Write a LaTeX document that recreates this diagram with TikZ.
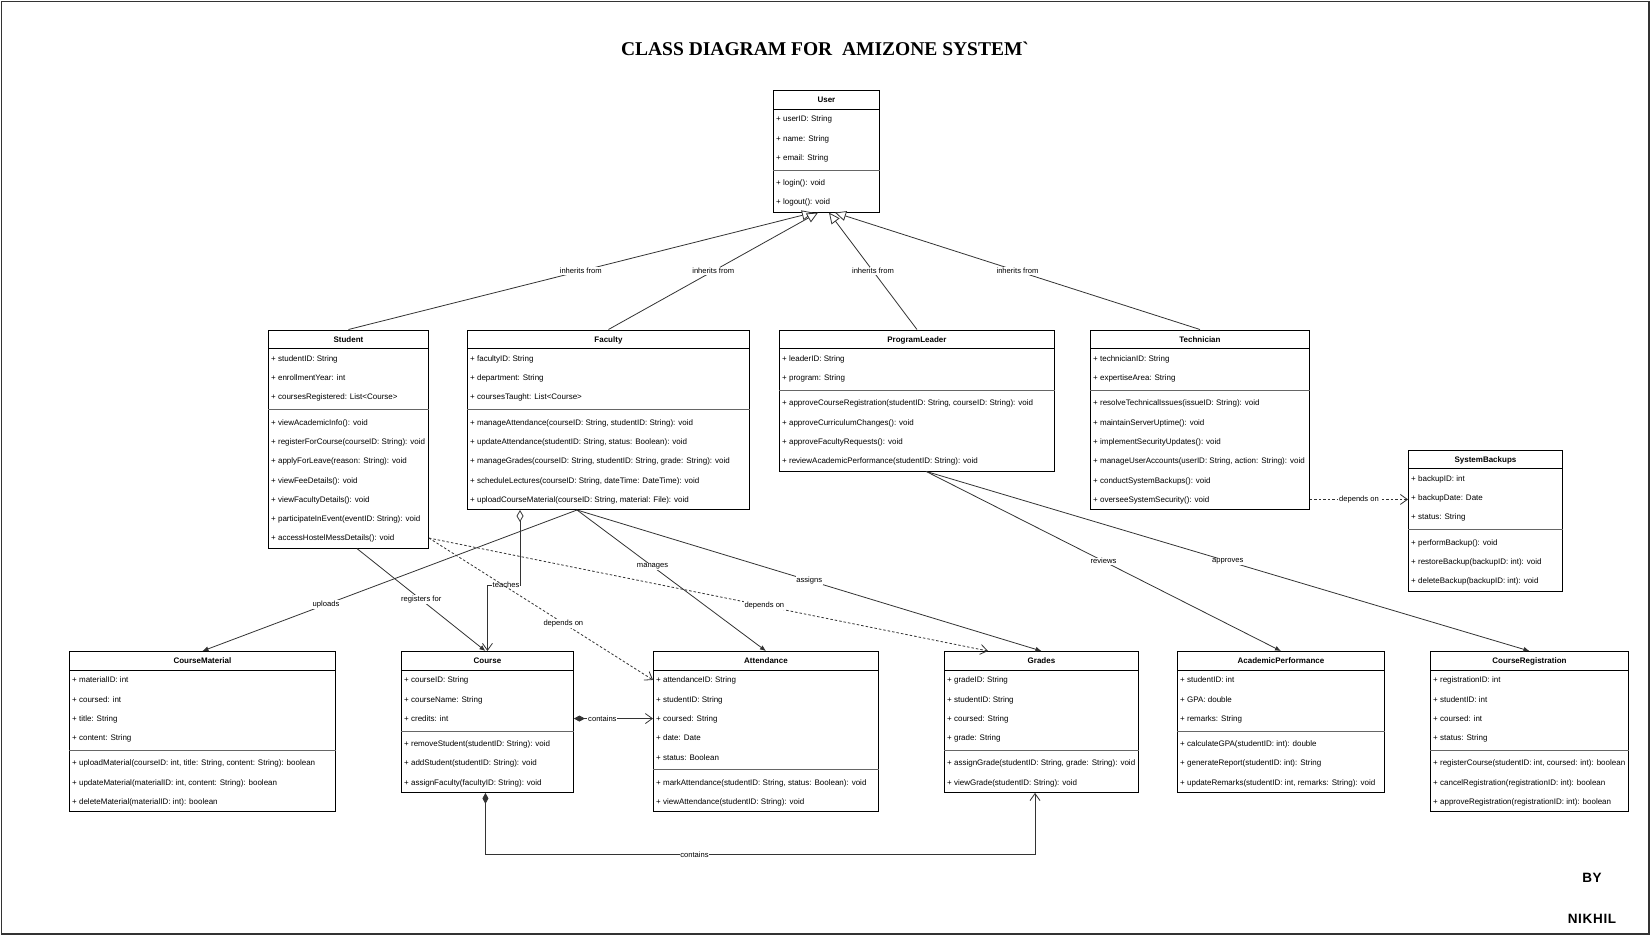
\documentclass[tikz,border=0pt]{standalone}
\usepackage{fontspec}
\setmainfont{Liberation Sans}
\newfontfamily\titlefont{Liberation Serif}
\newfontfamily\byfont[LetterSpace=5]{Liberation Sans}
\usetikzlibrary{arrows.meta,calc}

\tikzset{
  clsbox/.style={draw=black, line width=0.9pt, fill=white, inner sep=0pt, anchor=north west},
  clstitle/.style={font=\bfseries\fontsize{8}{9.6}\selectfont, anchor=base, inner sep=0pt},
  clsrow/.style={font=\fontsize{8}{9.6}\selectfont, anchor=base west, inner sep=0pt},
  clsline/.style={line width=0.8pt, black},
  clssep/.style={line width=0.9pt, black!60},
  conn/.style={draw=black!80, line width=0.8pt},
  lab/.style={font=\fontsize{7.6}{9}\selectfont, fill=white, inner sep=0.8pt},
  gen/.style={conn, -{Triangle[length=11pt, width=10pt, fill=white]}},
  assoc/.style={conn, -{Latex[length=6pt, width=5pt]}},
  dep/.style={conn, dash pattern=on 2.5pt off 2pt, -{Straight Barb[length=7pt, width=10pt]}},
  agg/.style={conn, {Diamond[length=12pt, width=7pt, fill=white]}-{Straight Barb[length=7pt, width=10pt]}},
  comp/.style={conn, {Diamond[length=11pt, width=6pt]}-{Straight Barb[length=7pt, width=10pt]}},
  signature/.style={font=\byfont\bfseries\fontsize{13.5}{15}\selectfont, anchor=base, inner sep=0pt}
}

% name, x, y(top), width, #attrs, #methods, title, attrs, methods
\newcommand{\umlclass}[9]{%
  \pgfmathsetmacro\clsH{19.3*(1+#5+#6)+5.9}%
  \node[clsbox, minimum width=#4pt, minimum height=\clsH pt] (#1) at (#2,#3) {};
  \node[clstitle] at ($(#1.north)+(0,12.6)$) {#7};
  \draw[clsline] ($(#1.north west)+(0,19.3)$) -- ($(#1.north east)+(0,19.3)$);
  \foreach \clsitem [count=\i] in {#8} {\node[clsrow] at ($(#1.north west)+(3,{19.3*\i+12.55})$) {\clsitem};}
  \pgfmathsetmacro\clsS{19.3*(1+#5)+2.95}%
  \draw[clssep] ($(#1.north west)+(0,\clsS)$) -- ($(#1.north east)+(0,\clsS)$);
  \foreach \clsitem [count=\i] in {#9} {\node[clsrow] at ($(#1.north west)+(3,{19.3*(#5+\i)+18.45})$) {\clsitem};}
}

\begin{document}
\begin{tikzpicture}[x=1pt,y=-1pt]
\useasboundingbox (0,0) rectangle (1651,936);
\fill[white] (0,0) rectangle (1651,936);
\draw[line width=1.3pt, black!80] (1.5,1.5) rectangle (1649,934);

\node[font=\titlefont\bfseries\fontsize{19.5}{22}\selectfont, anchor=base, inner sep=0pt] (title) at (825,56) {CLASS DIAGRAM FOR\ \ AMIZONE SYSTEM\textasciigrave};

\node[signature] (by) at (1592,882) {BY};
\node[signature] (nikhil) at (1592,923) {NIKHIL};

\umlclass{user}{773}{90}{106}{3}{2}{User}
  {+ userID: String, + name: String, + email: String}
  {+ login(): void, + logout(): void}

\umlclass{student}{268}{329.5}{160}{3}{7}{Student}
  {+ studentID: String, + enrollmentYear: int, + coursesRegistered: List<Course>}
  {+ viewAcademicInfo(): void, + registerForCourse(courseID: String): void, + applyForLeave(reason: String): void, + viewFeeDetails(): void, + viewFacultyDetails(): void, + participateInEvent(eventID: String): void, + accessHostelMessDetails(): void}

\umlclass{faculty}{467}{329.5}{282}{3}{5}{Faculty}
  {+ facultyID: String, + department: String, + coursesTaught: List<Course>}
  {{+ manageAttendance(courseID: String, studentID: String): void}, {+ updateAttendance(studentID: String, status: Boolean): void}, {+ manageGrades(courseID: String, studentID: String, grade: String): void}, {+ scheduleLectures(courseID: String, dateTime: DateTime): void}, {+ uploadCourseMaterial(courseID: String, material: File): void}}

\umlclass{programleader}{779}{329.5}{275}{2}{4}{ProgramLeader}
  {+ leaderID: String, + program: String}
  {{+ approveCourseRegistration(studentID: String, courseID: String): void}, + approveCurriculumChanges(): void, + approveFacultyRequests(): void, + reviewAcademicPerformance(studentID: String): void}

\umlclass{technician}{1090}{329.5}{219}{2}{6}{Technician}
  {+ technicianID: String, + expertiseArea: String}
  {+ resolveTechnicalIssues(issueID: String): void, + maintainServerUptime(): void, + implementSecurityUpdates(): void, {+ manageUserAccounts(userID: String, action: String): void}, + conductSystemBackups(): void, + overseeSystemSecurity(): void}

\umlclass{systembackups}{1408}{449.5}{154}{3}{3}{SystemBackups}
  {+ backupID: int, + backupDate: Date, + status: String}
  {+ performBackup(): void, + restoreBackup(backupID: int): void, + deleteBackup(backupID: int): void}

\umlclass{coursematerial}{69}{651}{266}{4}{3}{CourseMaterial}
  {+ materialID: int, + coursed: int, + title: String, + content: String}
  {{+ uploadMaterial(courseID: int, title: String, content: String): boolean}, {+ updateMaterial(materialID: int, content: String): boolean}, + deleteMaterial(materialID: int): boolean}

\umlclass{course}{401}{651}{172}{3}{3}{Course}
  {+ courseID: String, + courseName: String, + credits: int}
  {+ removeStudent(studentID: String): void, + addStudent(studentID: String): void, + assignFaculty(facultyID: String): void}

\umlclass{attendance}{653}{651}{225}{5}{2}{Attendance}
  {+ attendanceID: String, + studentID: String, + coursed: String, + date: Date, + status: Boolean}
  {{+ markAttendance(studentID: String, status: Boolean): void}, + viewAttendance(studentID: String): void}

\umlclass{grades}{944}{651}{194}{4}{2}{Grades}
  {+ gradeID: String, + studentID: String, + coursed: String, + grade: String}
  {{+ assignGrade(studentID: String, grade: String): void}, + viewGrade(studentID: String): void}

\umlclass{academicperformance}{1177}{651}{207}{3}{3}{AcademicPerformance}
  {+ studentID: int, + GPA: double, + remarks: String}
  {+ calculateGPA(studentID: int): double, + generateReport(studentID: int): String, {+ updateRemarks(studentID: int, remarks: String): void}}

\umlclass{courseregistration}{1430}{651}{198}{4}{3}{CourseRegistration}
  {+ registrationID: int, + studentID: int, + coursed: int, + status: String}
  {{+ registerCourse(studentID: int, coursed: int): boolean}, + cancelRegistration(registrationID: int): boolean, + approveRegistration(registrationID: int): boolean}

% generalizations
\draw[gen] (student.north) -- ($(user.south west)+(40,0)$) node[lab, pos=0.5] {inherits from};
\draw[gen] (faculty.north) -- ($(user.south west)+(45,0)$) node[lab, pos=0.5] {inherits from};
\draw[gen] (programleader.north) -- ($(user.south west)+(56,0)$) node[lab, pos=0.5] {inherits from};
\draw[gen] (technician.north) -- ($(user.south west)+(62,0)$) node[lab, pos=0.5] {inherits from};

% faculty associations
\coordinate (fbot) at ($(faculty.south west)+(110,0)$);
\draw[assoc] (fbot) -- (coursematerial.north) node[lab, pos=0.67] {uploads};
\draw[assoc] (fbot) -- (attendance.north) node[lab, pos=0.4] {manages};
\draw[assoc] (fbot) -- (grades.north) node[lab, pos=0.5] {assigns};

\coordinate (tkA) at ($(faculty.south west)+(53,0)$);
\coordinate (tkB) at ($(faculty.south west)+(53,75)$);
\draw[agg] (tkA) -- (tkB) -| (course.north);
\node[lab] at ($(tkB)+(-14,0)$) {teaches};

% student
\draw[assoc] ($(student.south west)+(89,0)$) -- ($(course.north)+(-2,0)$) node[lab, pos=0.5] {registers for};
\coordinate (sdep) at ($(student.north east)+(0,208.55)$);
\draw[dep] (sdep) -- ($(attendance.north west)+(0,28.95)$) node[lab, pos=0.6] {depends on};
\draw[dep] (sdep) -- ($(grades.north west)+(44,0)$) node[lab, pos=0.6] {depends on};

% course compositions
\draw[comp] ($(course.north east)+(0,67.55)$) -- ($(attendance.north west)+(0,67.55)$) node[lab, pos=0.36] {contains};
\coordinate (cgA) at ($(course.south)+(-2,0)$);
\coordinate (cgB) at ($(course.south)+(-2,61.7)$);
\coordinate (cgC) at ($(grades.south west)+(91,0)$);
\draw[comp] (cgA) -- (cgB) -| (cgC);
\node[lab] at ($(cgB)+(209,0)$) {contains};

% program leader
\coordinate (plb) at ($(programleader.south west)+(147,0)$);
\draw[assoc] (plb) -- (academicperformance.north) node[lab, pos=0.5] {reviews};
\draw[assoc] (plb) -- (courseregistration.north) node[lab, pos=0.5] {approves};

% technician
\coordinate (tdep) at ($(technician.north east)+(0,169.95)$);
\draw[dep] (tdep) -- (tdep -| systembackups.west) node[lab, pos=0.5] {depends on};

\end{tikzpicture}
\end{document}
